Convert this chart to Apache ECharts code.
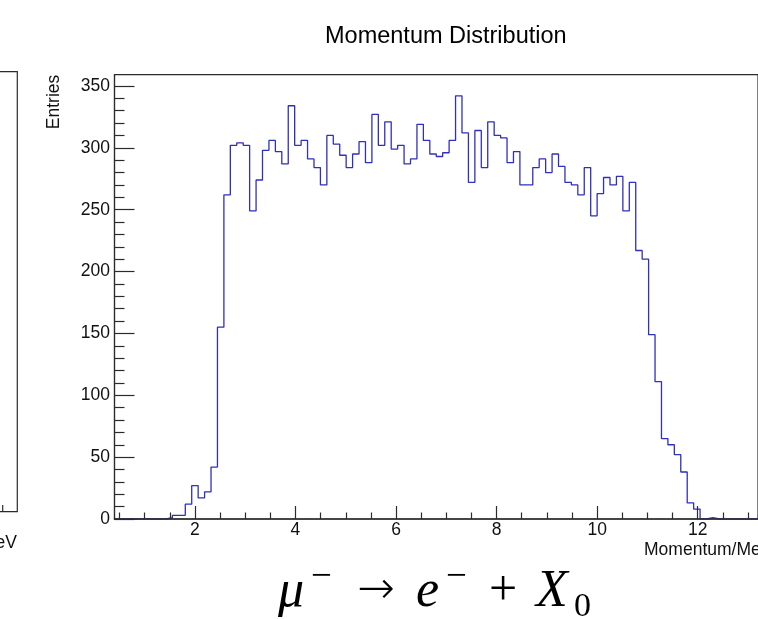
<!DOCTYPE html>
<html>
<head>
<meta charset="utf-8">
<script src="https://cdn.jsdelivr.net/npm/echarts@6/dist/echarts.min.js"></script>
<style>
  html, body { margin: 0; padding: 0; background: #fff; }
  #chart { width: 758px; height: 619px; }
</style>
</head>
<body>
<div id="chart"></div>
<script>
// Histogram binning: 100 bins of equal width starting at binLow (MeV)
const binLow = 0.4;
const binWidth = 0.128;
const binCount = 100;

// Entries per bin
const counts = [
  0, 0, 0, 0, 0, 0, 0, 0,
  1, 3, 3, 12, 27, 17, 22, 42, 155, 262,
  302, 304, 302, 249, 274, 298, 306, 297, 287, 334,
  302, 306, 291, 284, 270, 310, 303, 294, 284, 295,
  305, 288, 327, 302, 321, 299, 302, 287, 291, 319,
  306, 295, 293, 296, 306, 342, 312, 272, 314, 284,
  321, 310, 308, 288, 297, 270, 270, 284, 291, 280,
  295, 285, 272, 270, 262, 284, 245, 263, 276, 270,
  277, 249, 272, 217, 210, 149, 111, 65, 60, 52,
  38, 13, 8, 0, 1,
  0, 0, 0, 0, 0, 0, 0
];

// Axis tick positions
const xMajorTicks = [2, 4, 6, 8, 10, 12];
const xMinorTicks = [0.5, 1, 1.5, 2.5, 3, 3.5, 4.5, 5, 5.5, 6.5, 7, 7.5, 8.5, 9, 9.5,
                     10.5, 11, 11.5, 12.5, 13];
const yMajorTicks = [0, 50, 100, 150, 200, 250, 300, 350];
const yMinorTicks = [10, 20, 30, 40, 60, 70, 80, 90, 110, 120, 130, 140, 160, 170, 180, 190,
                     210, 220, 230, 240, 260, 270, 280, 290, 310, 320, 330, 340];

const titleText = 'Momentum Distribution';
const xTitle = 'Momentum/MeV';
const yTitle = 'Entries';

const xMin = binLow;
const xMax = binLow + binCount * binWidth;
const yMax = Math.max(...counts) * 1.05;

// Outline of the histogram: each bin contributes its left and right corner
const outline = [];
counts.forEach((c, i) => {
  outline.push([binLow + i * binWidth, c]);
  outline.push([binLow + (i + 1) * binWidth, c]);
});

const SANS = '"Liberation Sans", Arial, Helvetica, sans-serif';
const SERIF = '"Liberation Serif", "Times New Roman", serif';
const frameColor = '#2b2b2b';
const labelStyle = { color: '#111', fontFamily: SANS, fontSize: 17.5 };

const frame = { left: 114.5, top: 74.7, width: 657.9, height: 444.3 };

const chart = echarts.init(document.getElementById('chart'), null, { renderer: 'canvas' });

function mathText(text, x, y, font) {
  return {
    type: 'text', x: x, y: y, silent: true,
    style: {
      text: text, x: 0, y: 0, font: font,
      fill: '#000', align: 'left', verticalAlign: 'middle',
      textAlign: 'left', textVerticalAlign: 'middle'
    }
  };
}

chart.setOption({
  animation: false,
  backgroundColor: '#fff',
  grid: [
    Object.assign({ show: true, borderColor: frameColor, borderWidth: 1.2, backgroundColor: 'transparent', containLabel: false, z: 0 }, frame),
    Object.assign({ show: false, containLabel: false }, frame)
  ],
  xAxis: [
    {
      type: 'value', gridIndex: 0, min: xMin, max: xMax, position: 'bottom', z: 10,
      axisLine: { show: true, lineStyle: { color: frameColor, width: 1.6 } },
      axisTick: { show: true, inside: true, length: 13, customValues: xMajorTicks,
                  lineStyle: { color: frameColor, width: 1.2 } },
      axisLabel: { show: true, customValues: xMajorTicks, margin: 2, ...labelStyle },
      splitLine: { show: false }
    },
    {
      type: 'value', gridIndex: 1, min: xMin, max: xMax, position: 'bottom', z: 10,
      axisLine: { show: false },
      axisTick: { show: true, inside: true, length: 6.5, customValues: xMinorTicks,
                  lineStyle: { color: frameColor, width: 1.2 } },
      axisLabel: { show: false },
      splitLine: { show: false }
    }
  ],
  yAxis: [
    {
      type: 'value', gridIndex: 0, min: 0, max: yMax, position: 'left', z: 10,
      axisLine: { show: true, lineStyle: { color: frameColor, width: 1.2 } },
      axisTick: { show: true, inside: true, length: 20, customValues: yMajorTicks,
                  lineStyle: { color: frameColor, width: 1.2 } },
      axisLabel: { show: true, customValues: yMajorTicks, margin: 4.5, ...labelStyle },
      splitLine: { show: false }
    },
    {
      type: 'value', gridIndex: 1, min: 0, max: yMax, position: 'left', z: 10,
      axisLine: { show: false },
      axisTick: { show: true, inside: true, length: 10, customValues: yMinorTicks,
                  lineStyle: { color: frameColor, width: 1.2 } },
      axisLabel: { show: false },
      splitLine: { show: false }
    }
  ],
  series: [
    {
      type: 'line', xAxisIndex: 0, yAxisIndex: 0, data: outline,
      showSymbol: false, symbol: 'none', clip: true, z: 1,
      lineStyle: { color: '#2f2fc0', width: 1.3 }
    }
  ],
  graphic: [
    // Title
    {
      type: 'text', x: 445.8, y: 37, silent: true,
      style: { text: titleText, x: 0, y: 0, font: '23.5px ' + SANS, fill: '#000',
               align: 'center', verticalAlign: 'middle', textAlign: 'center', textVerticalAlign: 'middle' }
    },
    // Y axis title
    {
      type: 'text', x: 54, y: 74.7, rotation: Math.PI / 2, silent: true,
      style: { text: yTitle, x: 0, y: 0, font: '17.5px ' + SANS, fill: '#111',
               align: 'right', verticalAlign: 'middle', textAlign: 'right', textVerticalAlign: 'middle' }
    },
    // X axis title, right-aligned at the frame edge
    {
      type: 'text', x: frame.left + frame.width, y: 550.5, silent: true,
      style: { text: xTitle, x: 0, y: 0, font: '17.5px ' + SANS, fill: '#111',
               align: 'right', verticalAlign: 'middle', textAlign: 'right', textVerticalAlign: 'middle' }
    },
    // Neighbouring panel: right edge of its frame and its axis title
    {
      type: 'rect', silent: true,
      shape: { x: -60, y: 71.7, width: 77.3, height: 440 },
      style: { fill: 'none', stroke: frameColor, lineWidth: 1.2 }
    },
    {
      type: 'line', silent: true,
      shape: { x1: 2.7, y1: 511.7, x2: 2.7, y2: 505 },
      style: { stroke: frameColor, lineWidth: 1.2 }
    },
    {
      type: 'text', x: 17, y: 543, silent: true,
      style: { text: xTitle, x: 0, y: 0, font: '17.5px ' + SANS, fill: '#111',
               align: 'right', verticalAlign: 'middle', textAlign: 'right', textVerticalAlign: 'middle' }
    },
    // Decay formula: μ⁻ → e⁻ + X₀
    {
      type: 'group', silent: true,
      children: [
        mathText('μ', 278, 592, 'italic 52px ' + SERIF),
        mathText('−', 311, 577, '37px ' + SERIF),
        mathText('→', 357, 591, '200 45px "DejaVu Sans", sans-serif'),
        mathText('e', 416, 592, 'italic 52px ' + SERIF),
        mathText('−', 446, 577, '37px ' + SERIF),
        mathText('+', 489, 592, '50px ' + SERIF),
        mathText('X', 536, 592, 'italic 52px ' + SERIF),
        mathText('0', 574, 607, '34px ' + SERIF)
      ]
    }
  ]
});
</script>
</body>
</html>
